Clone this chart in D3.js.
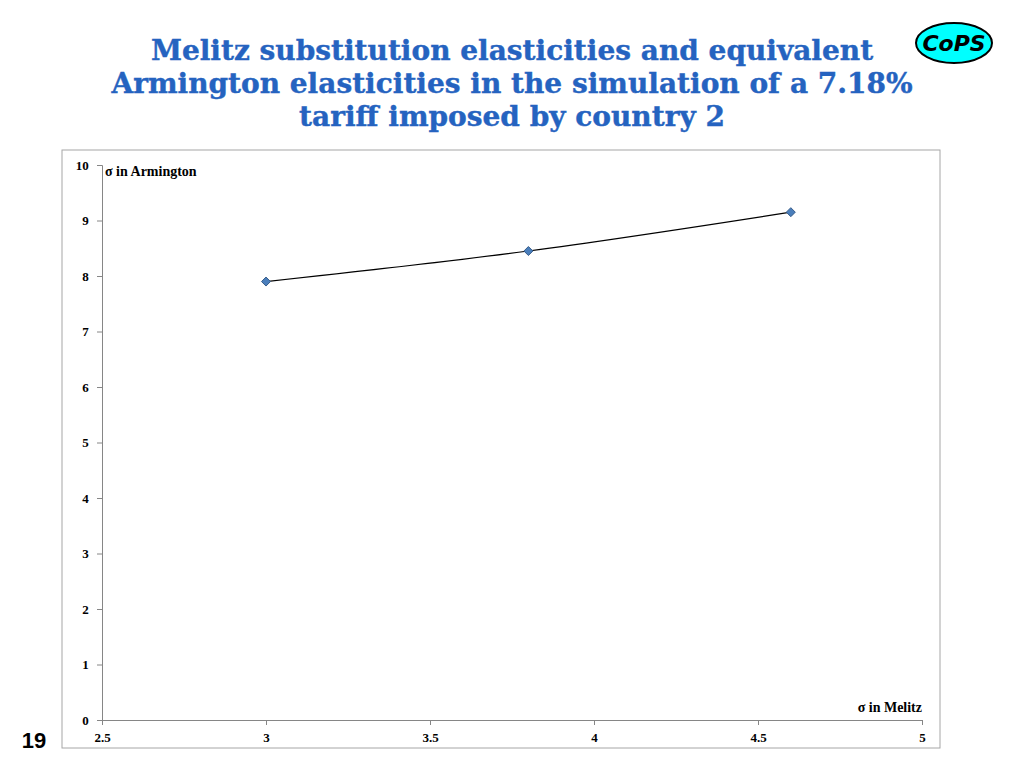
<!DOCTYPE html>
<html><head><meta charset="utf-8">
<script src="https://cdn.jsdelivr.net/npm/d3@7"></script>
<style>body{margin:0;background:#fff}</style>
</head><body>
<svg width="1024" height="768"></svg>
<script>
const melitz = [3, 3.8, 4.6];
const armington = [7.9, 8.45, 9.15];
const xTicks = [2.5, 3, 3.5, 4, 4.5, 5];
const yTicks = [0, 1, 2, 3, 4, 5, 6, 7, 8, 9, 10];
const titleLines = ["Melitz substitution elasticities and equivalent",
  "Armington elasticities in the simulation of a 7.18%", "tariff imposed by country 2"];

const svg = d3.select("svg");

// title
svg.append("text")
  .attr("x", 512).attr("y", 60)
  .attr("text-anchor", "middle")
  .attr("font-family", "DejaVu Serif").attr("font-weight", "bold")
  .attr("font-size", 28).attr("fill", "#2563c0")
  .attr("stroke", "#2563c0").attr("stroke-width", 0.4)
  .selectAll("tspan").data(titleLines).join("tspan")
  .attr("x", 512).attr("dy", (d, i) => i ? 33 : 0)
  .text(d => d);

// logo
svg.append("ellipse").attr("cx", 954).attr("cy", 43).attr("rx", 38).attr("ry", 20)
  .attr("fill", "#00ffff").attr("stroke", "#000").attr("stroke-width", 2);
svg.append("text").attr("x", 954).attr("y", 51).attr("text-anchor", "middle")
  .attr("font-family", "DejaVu Sans").attr("font-weight", "bold").attr("font-style", "italic")
  .attr("font-size", 22).text("CoPS");

svg.append("text").attr("x", 34).attr("y", 748).attr("text-anchor", "middle")
  .attr("font-family", "Liberation Sans").attr("font-weight", "bold")
  .attr("font-size", 22).text("19");

// chart frame
svg.append("rect").attr("x", 62).attr("y", 150).attr("width", 878).attr("height", 598)
  .attr("fill", "none").attr("stroke", "#a6a6a6");

const x = d3.scaleLinear().domain([2.5, 5]).range([102, 922]);
const y = d3.scaleLinear().domain([0, 10]).range([720, 165]);

const font = g => g.selectAll("text").attr("font-family", "Liberation Serif")
  .attr("font-weight", "bold").attr("font-size", 13).attr("fill", "#000");

svg.append("g").attr("transform", "translate(0,720)")
  .call(d3.axisBottom(x).tickValues(xTicks).tickSize(5).tickFormat(d3.format("")))
  .call(g => g.selectAll("line,path").attr("stroke", "#868686"))
  .call(g => g.selectAll("text").attr("dy", "1.1em"))
  .call(font);
svg.append("g").attr("transform", "translate(102,0)")
  .call(d3.axisLeft(y).tickValues(yTicks).tickSize(5))
  .call(g => g.selectAll("line,path").attr("stroke", "#868686"))
  .call(g => g.selectAll("text").attr("dx", "-0.4em"))
  .call(font);

const pts = melitz.map((m, i) => [m, armington[i]]);
svg.append("path").datum(pts)
  .attr("d", d3.line().x(d => x(d[0])).y(d => y(d[1])).curve(d3.curveCatmullRom))
  .attr("fill", "none").attr("stroke", "#000").attr("stroke-width", 1.2);
svg.selectAll(".pt").data(pts).join("path")
  .attr("transform", d => `translate(${x(d[0])},${y(d[1])})`)
  .attr("d", "M0,-4.5L4.5,0L0,4.5L-4.5,0Z")
  .attr("fill", "#4a7ebb").attr("stroke", "#385d8a");

const lab = (xx, yy, t, a) => svg.append("text").attr("x", xx).attr("y", yy)
  .attr("text-anchor", a).attr("font-family", "Liberation Serif").attr("font-weight", "bold")
  .attr("font-size", 14).text(t);
lab(105, 176, "σ in Armington", "start");
lab(922, 712, "σ in Melitz", "end");
</script>
</body></html>
